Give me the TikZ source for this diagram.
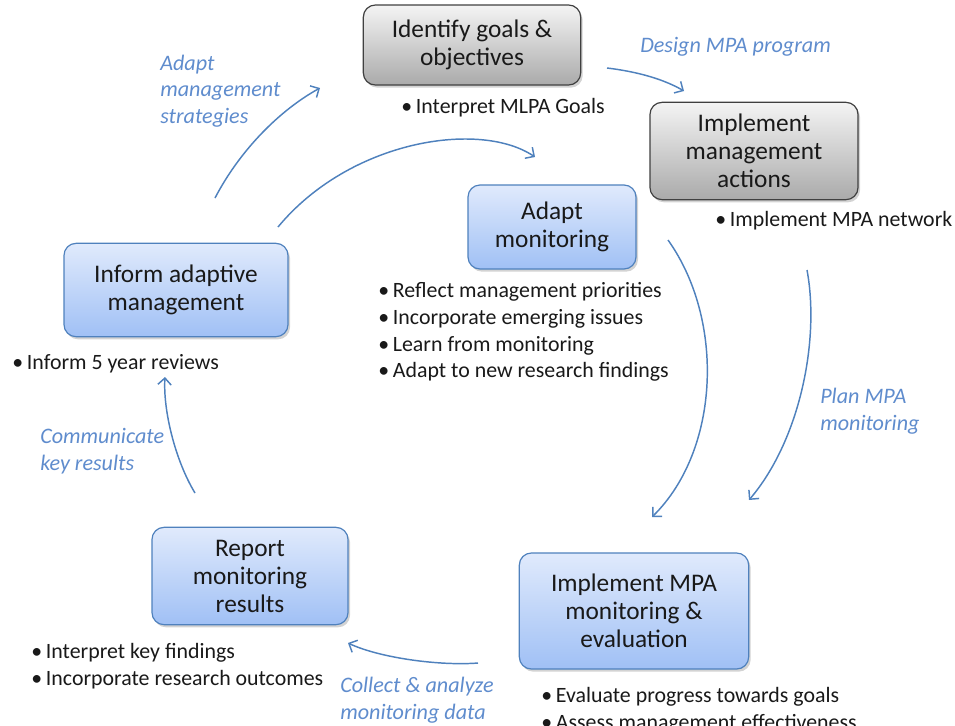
\documentclass[tikz,border=0pt]{standalone}
\usepackage{fontspec}
\setmainfont{Carlito}
\usetikzlibrary{arrows.meta,shadows}

\definecolor{boxline}{RGB}{79,129,189}
\definecolor{boxtop}{RGB}{224,234,252}
\definecolor{boxbot}{RGB}{160,192,245}
\definecolor{greytop}{RGB}{244,244,244}
\definecolor{greybot}{RGB}{170,170,170}
\definecolor{greyline}{RGB}{64,64,64}
\definecolor{flowblue}{RGB}{79,129,189}
\definecolor{labelblue}{RGB}{95,140,205}
\definecolor{inktext}{RGB}{25,25,25}

\newcommand{\bl}{\makebox[11pt][l]{•}}

\tikzset{
  stepbox/.style={rounded corners=9pt, draw=boxline, line width=0.9pt,
    top color=boxtop, bottom color=boxbot, align=center, text=inktext,
    font=\fontsize{19}{21}\selectfont,
    drop shadow={shadow xshift=1.5pt, shadow yshift=-2pt, opacity=0.35}},
  greybox/.style={stepbox, draw=greyline, top color=greytop, bottom color=greybot},
  bullets/.style={anchor=west, align=left, inner sep=0pt, text=inktext,
    font=\fontsize{16.4}{20}\selectfont},
  flowtext/.style={anchor=west, align=left, inner sep=0pt, text=labelblue,
    font=\fontsize{16.6}{20}\selectfont\itshape},
  flow/.style={draw=flowblue, line width=1.1pt, -{Straight Barb[length=5pt,width=10pt]}}
}

\begin{document}
\begin{tikzpicture}[x=0.75pt, y=-0.75pt]
  \path[use as bounding box] (0,0) rectangle (955,725);

  % steps of the cycle
  \node[greybox, minimum width=163pt, minimum height=60pt] (goals) at (472,45) {Identify goals \&\\objectives};
  \node[greybox, minimum width=156pt, minimum height=73pt] (actions) at (754,151) {Implement\\management\\actions};
  \node[stepbox, minimum width=126pt, minimum height=63pt] (adaptmon) at (552,227) {Adapt\\monitoring};
  \node[stepbox, minimum width=168pt, minimum height=70pt] (inform) at (176,290) {Inform adaptive\\management};
  \node[stepbox, minimum width=147pt, minimum height=73pt] (report) at (250,576) {Report\\monitoring\\results};
  \node[stepbox, minimum width=172pt, minimum height=87pt] (evalmon) at (634,611) {Implement MPA\\monitoring \&\\evaluation};

  % bullet lists
  \node[bullets] (goalsnote) at (401,108) {\bl Interpret MLPA Goals};
  \node[bullets] (actionsnote) at (715,221) {\bl Implement MPA network};
  \node[bullets] (adaptnote) at (378,332) {\bl Reflect management priorities\\\bl Incorporate emerging issues\\\bl Learn from monitoring\\\bl Adapt to new research findings};
  \node[bullets] (informnote) at (12,364) {\bl Inform 5 year reviews};
  \node[bullets] (reportnote) at (31,666) {\bl Interpret key findings\\\bl Incorporate research outcomes};
  \node[bullets] (evalnote) at (541,710) {\bl Evaluate progress towards goals\\\bl Assess management effectiveness};

  % arrow labels
  \node[flowtext] (strategies) at (160,91) {Adapt\\management\\strategies};
  \node[flowtext] (design) at (640,47) {Design MPA program};
  \node[flowtext] (plan) at (820,411) {Plan MPA\\monitoring};
  \node[flowtext] (communicate) at (40,451) {Communicate\\key results};
  \node[flowtext] (collect) at (340,700) {Collect \& analyze\\monitoring data};

  % arrow ends
  \coordinate (s1) at (215,198);  \coordinate (e1) at (320,88);
  \coordinate (s2) at (278,227);  \coordinate (e2) at (535,157);
  \coordinate (s3) at (607,68);   \coordinate (e3) at (684,91);
  \coordinate (s4) at (668,240);  \coordinate (e4) at (652,517);
  \coordinate (s5) at (807,270);  \coordinate (e5) at (749,500);
  \coordinate (s6) at (478,663);  \coordinate (e6) at (348,643);
  \coordinate (s7) at (195,493);  \coordinate (e7) at (165,377);

  \draw[flow] (s1) .. controls (240,150) and (280,110) .. (e1);
  \draw[flow] (s2) .. controls (350,140) and (480,120) .. (e2);
  \draw[flow] (s3) .. controls (640,72) and (665,80) .. (e3);
  \draw[flow] (s4) .. controls (725,320) and (720,450) .. (e4);
  \draw[flow] (s5) .. controls (820,340) and (800,440) .. (e5);
  \draw[flow] (s6) .. controls (440,666) and (380,658) .. (e6);
  \draw[flow] (s7) .. controls (175,460) and (163,410) .. (e7);
\end{tikzpicture}
\end{document}
